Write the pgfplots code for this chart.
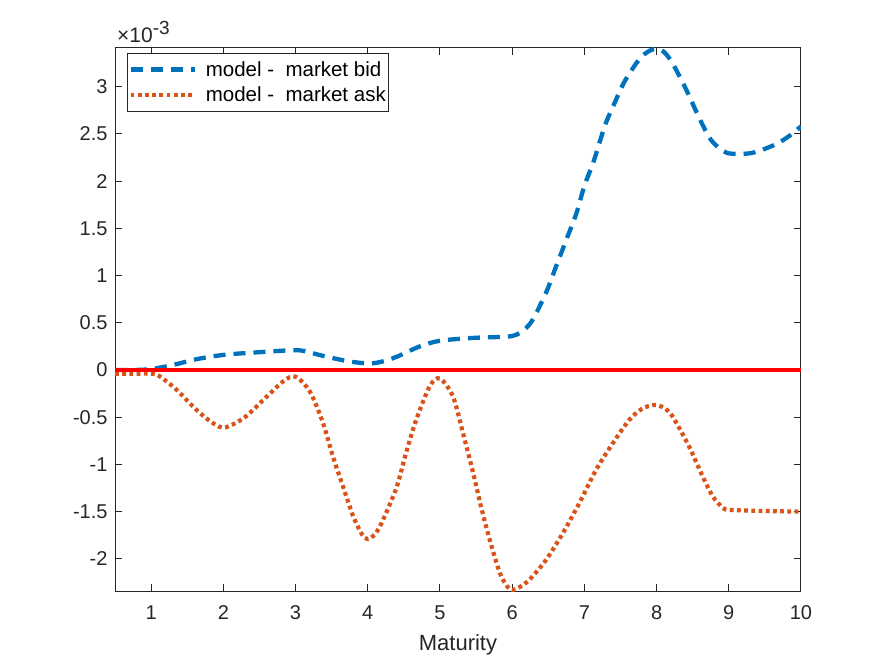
\documentclass[border=0pt]{standalone}
\usepackage{fontspec}
\setmainfont{Liberation Sans}
\usepackage{pgfplots}
\pgfplotsset{compat=1.18}
\definecolor{mblue}{rgb}{0,0.447,0.741}
\definecolor{morange}{rgb}{0.85,0.325,0.098}
\definecolor{axgray}{rgb}{0.15,0.15,0.15}
\begin{document}
\begin{tikzpicture}[x=1pt,y=1pt]
\path[use as bounding box] (0,0) rectangle (885,664);
\begin{axis}[
  name=ax,
  at={(115pt,73pt)}, anchor=south west,
  scale only axis, width=686pt, height=543pt,
  xmin=0.5, xmax=10, ymin=-2.34, ymax=3.41,
  xtick={1,2,3,4,5,6,7,8,9,10},
  xticklabels={1,2,3,4,5,6,7,8,9,10},
  ytick={-2,-1.5,-1,-0.5,0,0.5,1,1.5,2,2.5,3},
  yticklabels={-2,-1.5,-1,-0.5,0,0.5,1,1.5,2,2.5,3},
  tick align=inside, major tick length=7pt,
  axis line style={axgray, line width=1pt},
  tick style={axgray, line width=1pt},
  tick label style={font=\fontsize{20}{24}\selectfont, text=axgray},
  xticklabel style={yshift=-11pt},
  yticklabel style={xshift=-4pt},
  xlabel={Maturity},
  xlabel style={font=\fontsize{22}{26}\selectfont, text=axgray, yshift=-8pt},
  legend cell align=left,
  legend style={at={(0.0175,0.991)}, anchor=north west, draw=axgray, line width=1pt, fill=white,
    font=\fontsize{20.5}{24}\selectfont, inner xsep=1pt, inner ysep=6pt, row sep=5pt},
  legend image code/.code={\draw[#1] (2pt,0pt) -- (66pt,0pt); \path (73pt,0pt);},
]
\addplot[mblue, line width=4.3pt, dash pattern=on 12pt off 8pt, smooth] coordinates {
(0.5,0.0) (0.75,0.0) (1,0.01) (1.31,0.055) (1.63,0.115) (2,0.16) (2.42,0.185) (3,0.21)
(3.2,0.185) (3.38,0.15) (3.75,0.09) (4.03,0.07) (4.2,0.09) (4.4,0.14) (4.72,0.25) (5,0.31)
(5.46,0.34) (5.83,0.35) (6,0.36) (6.1,0.39) (6.2,0.45) (6.29,0.54) (6.47,0.82) (6.61,1.10)
(6.75,1.38) (6.89,1.66) (7,1.95) (7.12,2.19) (7.21,2.41) (7.3,2.62) (7.42,2.83) (7.56,3.06)
(7.76,3.29) (7.9,3.38) (8,3.40) (8.1,3.37) (8.22,3.25) (8.41,2.97) (8.59,2.67) (8.75,2.44)
(8.92,2.32) (9.05,2.29) (9.33,2.30) (9.65,2.39) (9.84,2.48) (10,2.58)
};
\addlegendentry{model -\ \ market bid}
\addplot[morange, line width=4.2pt, dash pattern=on 3.8pt off 3.4pt, smooth] coordinates {
(0.5,-0.04) (0.75,-0.04) (1.03,-0.04) (1.125,-0.07) (1.355,-0.21) (1.585,-0.39) (1.78,-0.52)
(2,-0.61) (2.28,-0.51) (2.55,-0.32) (2.83,-0.12) (3,-0.07) (3.2,-0.23) (3.38,-0.56)
(3.52,-0.92) (3.66,-1.24) (3.8,-1.55) (3.92,-1.74) (4.0,-1.79) (4.1,-1.74) (4.21,-1.59)
(4.4,-1.24) (4.53,-0.88) (4.67,-0.53) (4.86,-0.17) (5.0,-0.09) (5.18,-0.28) (5.32,-0.67)
(5.46,-1.09) (5.57,-1.45) (5.69,-1.80) (5.83,-2.15) (5.93,-2.29) (6.0,-2.33) (6.1,-2.30)
(6.24,-2.22) (6.47,-2.01) (6.7,-1.73) (6.93,-1.41) (7.16,-1.06) (7.39,-0.78) (7.62,-0.53)
(7.8,-0.41) (7.97,-0.37) (8.1,-0.40) (8.22,-0.49) (8.45,-0.81) (8.64,-1.13) (8.78,-1.34)
(8.92,-1.46) (9.0,-1.48) (9.33,-1.49) (10,-1.50)
};
\addlegendentry{model -\ \ market ask}
\addplot[red, line width=4pt, forget plot] coordinates {(0.5,0) (10,0)};
\end{axis}
\node[anchor=base west, inner sep=0pt, xshift=2pt, yshift=5pt, text=axgray,
  font=\fontsize{21}{24}\selectfont] at (ax.north west) {×10\raisebox{8pt}{\fontsize{19}{20}\selectfont -3}};
\end{tikzpicture}
\end{document}
